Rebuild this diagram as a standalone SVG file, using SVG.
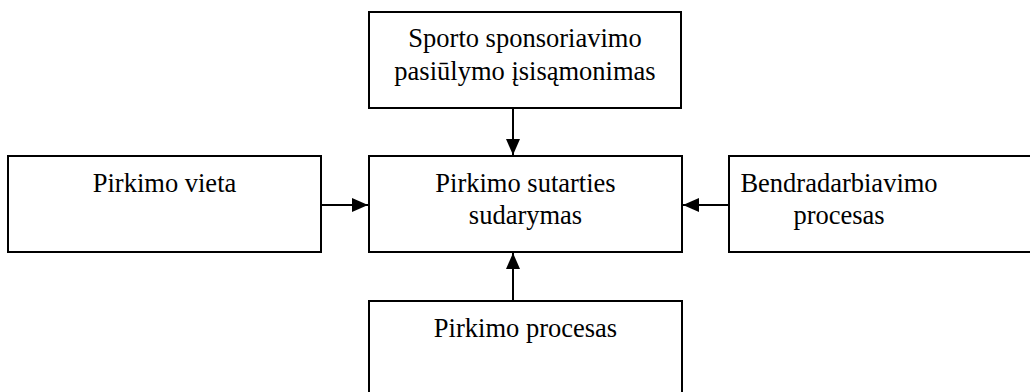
<svg xmlns="http://www.w3.org/2000/svg" width="1030" height="392" viewBox="0 0 1030 392">
  <style>
    .box { fill: #ffffff; stroke: #000000; stroke-width: 2; }
    .label { font-family: "Liberation Serif", "Times New Roman", serif; font-size: 26.5px; fill: #000000; text-anchor: middle; }
    .link { stroke: #000000; stroke-width: 2; fill: none; }
  </style>
  <defs>
    <marker id="arrow" viewBox="0 0 16 14" refX="16" refY="7" markerWidth="16" markerHeight="14" markerUnits="userSpaceOnUse" orient="auto">
      <path d="M0,0 L16,7 L0,14 Z" fill="#000000"/>
    </marker>
  </defs>

  <rect width="1030" height="392" fill="#ffffff"/>

  <!-- connectors -->
  <g id="connectors">
    <line class="link" x1="513" y1="108" x2="513" y2="155" marker-end="url(#arrow)"/>
    <line class="link" x1="322" y1="205" x2="368" y2="205" marker-end="url(#arrow)"/>
    <line class="link" x1="728" y1="205" x2="683" y2="205" marker-end="url(#arrow)"/>
    <line class="link" x1="513" y1="301" x2="513" y2="253" marker-end="url(#arrow)"/>
  </g>

  <g id="node-sponsorship">
    <rect class="box" x="369" y="12" width="312" height="96"/>
    <text class="label" x="525" y="47">Sporto sponsoriavimo</text>
    <text class="label" x="525" y="80">pasiūlymo įsisąmonimas</text>
  </g>

  <g id="node-place">
    <rect class="box" x="8" y="156" width="313" height="96"/>
    <text class="label" x="164.5" y="192">Pirkimo vieta</text>
  </g>

  <g id="node-contract">
    <rect class="box" x="369" y="156" width="313" height="96"/>
    <text class="label" x="525.5" y="192">Pirkimo sutarties</text>
    <text class="label" x="525.5" y="224">sudarymas</text>
  </g>

  <g id="node-cooperation">
    <rect class="box" x="729" y="156" width="313" height="96"/>
    <text class="label" x="839" y="192">Bendradarbiavimo</text>
    <text class="label" x="839" y="224">procesas</text>
  </g>

  <g id="node-purchase">
    <rect class="box" x="369" y="301" width="313" height="96"/>
    <text class="label" x="525.5" y="337">Pirkimo procesas</text>
  </g>
</svg>
